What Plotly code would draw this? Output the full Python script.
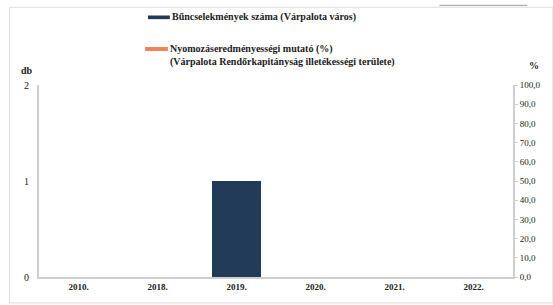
import plotly.graph_objects as go

categories = ["2010.", "2018.", "2019.", "2020.", "2021.", "2022."]
crimes = [0, 0, 1, 0, 0, 0]
clearance_pct = [None, None, None, None, None, None]
left_ticks = [0, 1, 2]
right_ticks = [0, 10, 20, 30, 40, 50, 60, 70, 80, 90, 100]
right_labels = ["0,0", "10,0", "20,0", "30,0", "40,0", "50,0", "60,0", "70,0", "80,0", "90,0", "100,0"]

SERIF = "Liberation Serif"
BAR = "#223b59"
ORANGE = "#f2845c"

fig = go.Figure()
fig.add_trace(go.Bar(x=categories, y=crimes, width=0.62,
                     marker=dict(color=BAR, line=dict(width=0)),
                     name="Bűncselekmények száma (Várpalota város)", showlegend=False))
fig.add_trace(go.Scatter(x=categories, y=clearance_pct, yaxis="y2", mode="lines",
                         line=dict(color=ORANGE, width=3),
                         name="Nyomozáseredményességi mutató (%)", showlegend=False))

fig.update_layout(
    width=553, height=305,
    margin=dict(l=39, r=40, t=85, b=28),
    paper_bgcolor="white", plot_bgcolor="white",
    font=dict(family=SERIF, size=10, color="#222"),
    xaxis=dict(type="category", categoryorder="array", categoryarray=categories,
               showline=True, linecolor="#cfcfcf", linewidth=2, showgrid=False,
               ticks="", tickfont=dict(family=SERIF, size=9, color="#222"),
               tickprefix="<b>", ticksuffix="</b>"),
    yaxis=dict(range=[0, 2], tickvals=left_ticks, showline=True, linecolor="#cfcfcf",
               linewidth=2, showgrid=False, ticks="", ticklabelstandoff=6,
               tickfont=dict(family=SERIF, size=10), zeroline=False),
    yaxis2=dict(range=[0, 100], overlaying="y", side="right", tickvals=right_ticks,
                ticktext=right_labels, showline=True, linecolor="#cfcfcf", linewidth=2,
                showgrid=False, ticks="outside", ticklen=3, tickcolor="#cfcfcf",
                tickfont=dict(family=SERIF, size=9), zeroline=False),
    shapes=[
        dict(type="rect", xref="paper", yref="paper", x0=-0.062, x1=1.084, y0=-0.135, y1=1.405,
             line=dict(color="#dedede", width=1), fillcolor="rgba(0,0,0,0)", layer="below"),
        dict(type="line", xref="paper", yref="paper", x0=0.845, x1=1.03, y0=1.415, y1=1.415,
             line=dict(color="#9a9a9a", width=1)),
        dict(type="rect", xref="paper", yref="paper", x0=0.23, x1=0.276, y0=1.343, y1=1.362,
             line=dict(width=0), fillcolor=BAR),
        dict(type="line", xref="paper", yref="paper", x0=0.224, x1=0.272, y0=1.1875, y1=1.1875,
             line=dict(color=ORANGE, width=4)),
    ],
    annotations=[
        dict(xref="paper", yref="paper", x=0.276, y=1.352, xanchor="left", yanchor="middle",
             text="<b>Bűncselekmények száma (Várpalota város)</b>", showarrow=False,
             font=dict(family=SERIF, size=10)),
        dict(xref="paper", yref="paper", x=0.272, y=1.19, xanchor="left", yanchor="middle",
             text="<b>Nyomozáseredményességi mutató (%)</b>", showarrow=False,
             font=dict(family=SERIF, size=10)),
        dict(xref="paper", yref="paper", x=0.272, y=1.118, xanchor="left", yanchor="middle",
             text="<b>(Várpalota Rendőrkapitányság illetékességi területe)</b>", showarrow=False,
             font=dict(family=SERIF, size=10)),
        dict(xref="paper", yref="paper", x=-0.025, y=1.078, xanchor="center", yanchor="middle",
             text="<b>db</b>", showarrow=False, font=dict(family=SERIF, size=10)),
        dict(xref="paper", yref="paper", x=1.045, y=1.104, xanchor="center", yanchor="middle",
             text="<b>%</b>", showarrow=False, font=dict(family=SERIF, size=10)),
    ],
)

fig.write_html("out.html", config={"displayModeBar": False},
               post_script="document.body.style.margin='0';")
